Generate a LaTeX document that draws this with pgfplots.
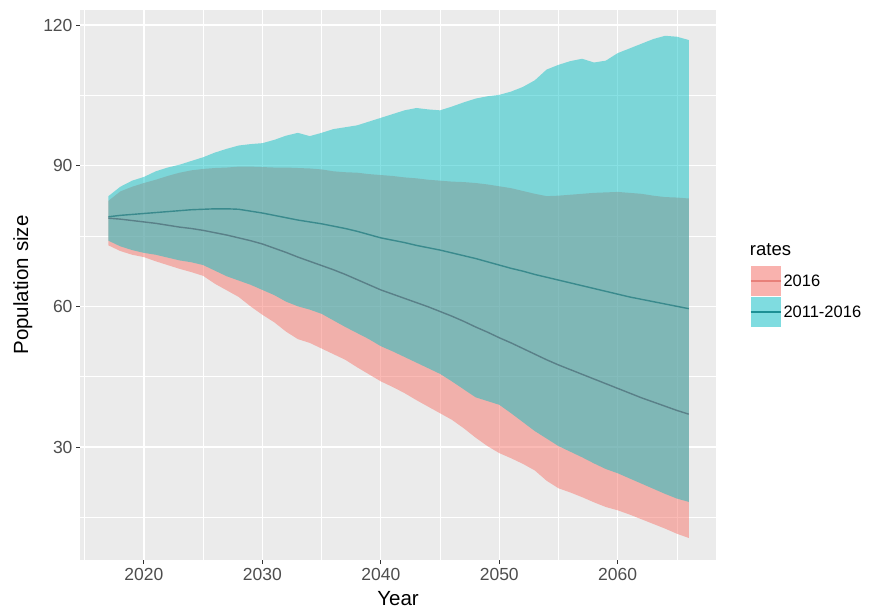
\documentclass[border=0pt]{standalone}
\usepackage{pgfplots}
\pgfplotsset{compat=1.18}
\usepackage{pgfplotstable}
\usepackage{fontspec}
\setmainfont{Liberation Sans}
\definecolor{panel}{HTML}{EBEBEB}
\definecolor{pinkc}{HTML}{F8766D}
\definecolor{tealc}{HTML}{00BFC4}
\definecolor{tealline}{HTML}{3A8A8D}
\definecolor{pinkline}{HTML}{5A8088}
\definecolor{grey30}{HTML}{4D4D4D}
\definecolor{grey20}{HTML}{333333}
\definecolor{keypink}{HTML}{F9B2AE}
\definecolor{keyteal}{HTML}{7FDCE0}
\definecolor{keypinkline}{HTML}{E8807A}
\definecolor{keytealline}{HTML}{1E9095}

\pgfplotstableread{
year tmed pmed
2017 79.1 78.8
2018 79.4 78.6
2019 79.6 78.3
2020 79.8 78.0
2021 80.0 77.7
2022 80.2 77.3
2023 80.4 76.9
2024 80.6 76.6
2025 80.7 76.2
2026 80.8 75.7
2027 80.8 75.2
2028 80.7 74.6
2029 80.3 74.0
2030 79.9 73.3
2031 79.4 72.4
2032 78.9 71.5
2033 78.4 70.5
2034 78.0 69.6
2035 77.6 68.7
2036 77.1 67.8
2037 76.6 66.8
2038 76.0 65.7
2039 75.3 64.6
2040 74.6 63.5
2041 74.1 62.6
2042 73.6 61.7
2043 73.0 60.8
2044 72.5 59.9
2045 72.0 58.9
2046 71.4 57.9
2047 70.8 56.8
2048 70.2 55.6
2049 69.5 54.5
2050 68.8 53.3
2051 68.1 52.2
2052 67.5 51.0
2053 66.8 49.8
2054 66.2 48.6
2055 65.6 47.5
2056 65.0 46.5
2057 64.4 45.5
2058 63.8 44.5
2059 63.2 43.5
2060 62.6 42.5
2061 62.0 41.5
2062 61.5 40.5
2063 61.0 39.6
2064 60.5 38.7
2065 60.0 37.8
2066 59.5 37.0
}\medians

\begin{document}
\begin{tikzpicture}
\useasboundingbox (0,0) rectangle (875pt,611pt);
\begin{axis}[
  at={(80pt,51pt)}, anchor=south west,
  width=636pt, height=550pt, scale only axis,
  xmin=2014.6, xmax=2068.3, ymin=5.9, ymax=123.2,
  clip mode=individual,
  axis background/.style={fill=panel},
  axis line style={draw=none},
  xtick={2020,2030,...,2060}, ytick={30,60,90,120},
  minor xtick={2015,2025,...,2065}, minor ytick={15,45,75,105},
  grid=both,
  major grid style={white, line width=1.1pt},
  minor grid style={white, line width=0.55pt},
  tick pos=left, tick align=outside,
  major tick length=4pt, minor tick length=0pt,
  tick style={grey20, line width=1pt},
  /pgf/number format/assume math mode=true,
  /pgf/number format/1000 sep={},
  ticklabel style={font=\fontsize{17.5}{18}\selectfont, text=grey30},
  xticklabel style={yshift=-1pt},
  xlabel={Year}, ylabel={Population size},
  label style={font=\fontsize{20.5}{22}\selectfont},
  xlabel style={yshift=-4pt},
  ylabel style={yshift=4pt},
  legend style={at={(1.053,0.5345)}, anchor=north west, draw=none, fill=none,
    inner sep=0pt, row sep=1pt, font=\fontsize{16.5}{18}\selectfont,
    /tikz/every even column/.append style={column sep=5pt}},
  legend cell align=left,
]
% 2016 ribbon: upper bound forward, lower bound backward
\addplot[fill=pinkc, fill opacity=0.5, draw=none, forget plot] coordinates {
(2017,82.5)(2018,84.5)(2019,85.5)(2020,86.3)(2021,87.0)(2022,87.8)(2023,88.5)(2024,89.0)(2025,89.3)(2026,89.5)(2027,89.6)(2028,89.8)(2029,89.8)(2030,89.7)(2031,89.6)(2032,89.6)(2033,89.5)(2034,89.4)(2035,89.2)(2036,88.8)(2037,88.6)(2038,88.5)(2039,88.2)(2040,88.0)(2041,87.8)(2042,87.5)(2043,87.3)(2044,87.0)(2045,86.8)(2046,86.6)(2047,86.5)(2048,86.3)(2049,86.0)(2050,85.6)(2051,85.2)(2052,84.6)(2053,84.0)(2054,83.5)(2055,83.6)(2056,83.8)(2057,84.0)(2058,84.2)(2059,84.3)(2060,84.4)(2061,84.2)(2062,84.0)(2063,83.6)(2064,83.3)(2065,83.2)(2066,83.0)
(2066,10.6)(2065,11.5)(2064,12.6)(2063,13.6)(2062,14.6)(2061,15.6)(2060,16.5)(2059,17.2)(2058,18.2)(2057,19.3)(2056,20.3)(2055,21.2)(2054,22.8)(2053,25.0)(2052,26.4)(2051,27.6)(2050,28.7)(2049,30.2)(2048,32.0)(2047,34.0)(2046,35.8)(2045,37.2)(2044,38.6)(2043,40.0)(2042,41.5)(2041,42.8)(2040,44.0)(2039,45.5)(2038,47.0)(2037,48.6)(2036,49.8)(2035,51.0)(2034,52.2)(2033,53.0)(2032,54.6)(2031,56.6)(2030,58.2)(2029,60.0)(2028,62.0)(2027,63.4)(2026,64.8)(2025,66.5)(2024,67.3)(2023,68.0)(2022,68.8)(2021,69.6)(2020,70.5)(2019,71.0)(2018,71.8)(2017,73.0)
} -- cycle;
% 2011-2016 ribbon
\addplot[fill=tealc, fill opacity=0.47, draw=none, forget plot] coordinates {
(2017,83.5)(2018,85.5)(2019,86.8)(2020,87.6)(2021,88.8)(2022,89.6)(2023,90.2)(2024,91.0)(2025,91.8)(2026,92.8)(2027,93.6)(2028,94.3)(2029,94.6)(2030,94.8)(2031,95.5)(2032,96.4)(2033,97.0)(2034,96.3)(2035,97.0)(2036,97.8)(2037,98.2)(2038,98.6)(2039,99.4)(2040,100.2)(2041,101.0)(2042,101.8)(2043,102.3)(2044,102.0)(2045,101.8)(2046,102.6)(2047,103.5)(2048,104.3)(2049,104.8)(2050,105.1)(2051,105.8)(2052,106.8)(2053,108.2)(2054,110.5)(2055,111.5)(2056,112.3)(2057,112.8)(2058,112.0)(2059,112.4)(2060,114.0)(2061,115.0)(2062,116.0)(2063,117.0)(2064,117.7)(2065,117.5)(2066,116.8)
(2066,18.3)(2065,19.0)(2064,20.0)(2063,21.1)(2062,22.2)(2061,23.3)(2060,24.4)(2059,25.3)(2058,26.5)(2057,27.8)(2056,29.0)(2055,30.2)(2054,31.8)(2053,33.4)(2052,35.3)(2051,37.2)(2050,39.0)(2049,39.8)(2048,40.6)(2047,42.3)(2046,44.0)(2045,45.6)(2044,46.8)(2043,48.0)(2042,49.2)(2041,50.4)(2040,51.5)(2039,53.0)(2038,54.3)(2037,55.6)(2036,57.0)(2035,58.4)(2034,59.3)(2033,60.0)(2032,61.0)(2031,62.4)(2030,63.5)(2029,64.6)(2028,65.5)(2027,66.4)(2026,67.6)(2025,68.8)(2024,69.4)(2023,69.8)(2022,70.4)(2021,71.0)(2020,71.4)(2019,72.0)(2018,72.8)(2017,74.0)
} -- cycle;
\addplot[tealline, line width=1.4pt, forget plot] table[x=year,y=tmed]{\medians};
\addplot[pinkline, line width=1.4pt, forget plot] table[x=year,y=pmed]{\medians};
\addlegendimage{draw=keypinkline, fill=keypink, line width=1.6pt,
  legend image code/.code={\path[fill=keypink, draw=none] (0pt,-15pt) rectangle (30pt,15pt); \path[draw=keypinkline, line width=1.6pt] (0pt,0pt) -- (30pt,0pt);}}
\addlegendentry{2016}
\addlegendimage{draw=keytealline, fill=keyteal, line width=1.6pt,
  legend image code/.code={\path[fill=keyteal, draw=none] (0pt,-15pt) rectangle (30pt,15pt); \path[draw=keytealline, line width=1.6pt] (0pt,0pt) -- (30pt,0pt);}}
\addlegendentry{2011-2016}
\node[anchor=west, inner sep=0pt, font=\fontsize{18.5}{20}\selectfont] at (rel axis cs:1.053,0.5636) {rates};
\end{axis}
\end{tikzpicture}
\end{document}
